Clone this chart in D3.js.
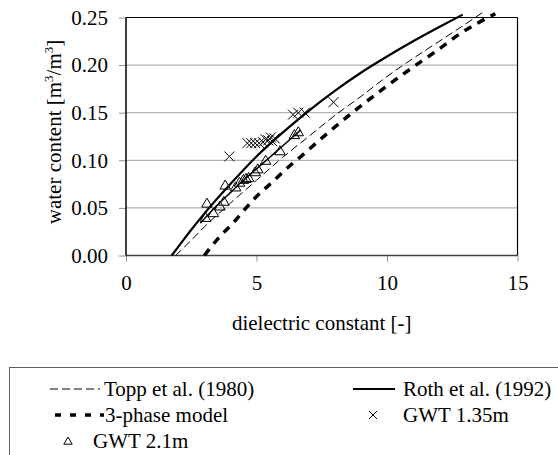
<!DOCTYPE html>
<html>
<head>
<meta charset="utf-8">
<script src="https://cdn.jsdelivr.net/npm/d3@7.9.0/dist/d3.min.js"></script>
<style>
  html, body { margin: 0; padding: 0; background: #fff; }
  svg text { font-family: "Liberation Serif", "Times New Roman", Tinos, "DejaVu Serif", serif !important; }
</style>
</head>
<body>
<svg id="chart" width="558" height="455"></svg>
<script>
// axis ticks
const xTicks = [0, 5, 10, 15];
const yTicks = [0, 0.05, 0.1, 0.15, 0.2, 0.25];

// model curves: [dielectric constant, water content]
const toppCurve = [
  [1.9, 0.0], [2.5, 0.016], [3, 0.03], [4, 0.055], [5, 0.079], [6, 0.103],
  [7, 0.125], [8, 0.147], [9, 0.167], [10, 0.188], [11, 0.207], [12, 0.225],
  [13, 0.243], [13.65, 0.255]
];
const rothCurve = [
  [1.75, 0.0], [2, 0.009], [2.5, 0.027], [3, 0.044], [4, 0.075], [5, 0.104],
  [6, 0.129], [7, 0.152], [8, 0.173], [9, 0.192], [10, 0.209], [11, 0.225],
  [12, 0.240], [12.9, 0.253]
];
const threePhaseCurve = [
  [3.0, 0.0], [3.6, 0.02], [4.1, 0.034], [4.6, 0.05], [5.0, 0.062], [5.6, 0.077],
  [6.1, 0.09], [6.7, 0.104], [7.7, 0.128], [8.9, 0.155], [9.9, 0.176],
  [10.9, 0.196], [11.9, 0.215], [12.8, 0.233], [14.15, 0.254]
];
const trendCurve = [
  [2.85, 0.034], [3.5, 0.053], [4, 0.066], [4.5, 0.079], [5, 0.091],
  [5.5, 0.103], [6, 0.115], [6.7, 0.132]
];

// measurements
const gwt135 = [
  [3.96, 0.104],
  [4.65, 0.118], [4.8, 0.118], [4.95, 0.118], [5.1, 0.118], [5.25, 0.119],
  [5.35, 0.122], [5.45, 0.121], [5.55, 0.124], [5.6, 0.12], [5.7, 0.123],
  [6.4, 0.148], [6.6, 0.15], [6.85, 0.15],
  [7.95, 0.161]
];
const gwt21 = [
  [3.05, 0.040], [3.1, 0.055], [3.35, 0.045], [3.6, 0.052], [3.75, 0.057],
  [3.8, 0.074], [4.2, 0.072], [4.35, 0.077], [4.5, 0.080], [4.6, 0.081],
  [4.7, 0.082], [4.95, 0.088], [5.05, 0.091], [5.35, 0.100], [5.9, 0.110],
  [6.45, 0.127], [6.6, 0.130]
];

const svg = d3.select('#chart');
const plotLeft = 126, plotRight = 517.5, plotTop = 17.5, plotBottom = 255.5;

const x = d3.scaleLinear().domain([0, 15]).range([plotLeft, plotRight]);
const y = d3.scaleLinear().domain([0, 0.25]).range([plotBottom, plotTop]);

// gridlines
svg.append('g')
  .selectAll('line')
  .data(yTicks.filter((d) => d > 0 && d < 0.25))
  .join('line')
  .attr('x1', plotLeft).attr('x2', plotRight)
  .attr('y1', (d) => y(d)).attr('y2', (d) => y(d))
  .attr('stroke', '#a0a0a0').attr('stroke-width', 1);

// axes
const xAxis = svg.append('g')
  .attr('transform', `translate(0,${plotBottom})`)
  .call(d3.axisBottom(x).tickValues(xTicks).tickSize(6).tickPadding(14).tickFormat(d3.format('d')));
xAxis.select('.domain').remove();
xAxis.selectAll('.tick line').attr('stroke', '#909090');
xAxis.selectAll('.tick text').attr('font-size', 21).attr('fill', '#000');

const yAxis = svg.append('g')
  .attr('transform', `translate(${plotLeft},0)`)
  .call(d3.axisLeft(y).tickValues(yTicks).tickSize(7).tickPadding(11).tickFormat(d3.format('.2f')));
yAxis.select('.domain').remove();
yAxis.selectAll('.tick line').attr('stroke', '#909090');
yAxis.selectAll('.tick text').attr('font-size', 21).attr('fill', '#000');

// frame
svg.append('line').attr('x1', plotLeft).attr('x2', plotRight).attr('y1', plotTop).attr('y2', plotTop)
  .attr('stroke', '#000').attr('stroke-width', 1.2);
svg.append('line').attr('x1', plotRight).attr('x2', plotRight).attr('y1', plotTop).attr('y2', plotBottom)
  .attr('stroke', '#000').attr('stroke-width', 1.2);
svg.append('line').attr('x1', plotLeft).attr('x2', plotRight).attr('y1', plotBottom).attr('y2', plotBottom)
  .attr('stroke', '#404040').attr('stroke-width', 1.3);
svg.append('line').attr('x1', plotLeft).attr('x2', plotLeft).attr('y1', plotTop).attr('y2', plotBottom)
  .attr('stroke', '#000').attr('stroke-width', 1.5);

// curves
const line = d3.line()
  .x((d) => x(d[0]))
  .y((d) => y(d[1]))
  .curve(d3.curveMonotoneX);

svg.append('path').datum(toppCurve).attr('d', line)
  .attr('fill', 'none').attr('stroke', '#000').attr('stroke-width', 1)
  .attr('stroke-dasharray', '8,4');
svg.append('path').datum(threePhaseCurve).attr('d', line)
  .attr('fill', 'none').attr('stroke', '#000').attr('stroke-width', 3.5)
  .attr('stroke-dasharray', '8,7');
svg.append('path').datum(trendCurve).attr('d', line)
  .attr('fill', 'none').attr('stroke', '#000').attr('stroke-width', 1.5);
svg.append('path').datum(rothCurve).attr('d', line)
  .attr('fill', 'none').attr('stroke', '#000').attr('stroke-width', 2.2);

// markers
const cross = (s) => `M${-s},${-s}L${s},${s}M${-s},${s}L${s},${-s}`;
const tri = (s) => `M0,${-s}L${s * 1.05},${s * 0.8}L${-s * 1.05},${s * 0.8}Z`;

svg.append('g')
  .selectAll('path')
  .data(gwt21)
  .join('path')
  .attr('transform', (d) => `translate(${x(d[0])},${y(d[1])})`)
  .attr('d', tri(5))
  .attr('fill', 'none').attr('stroke', '#000').attr('stroke-width', 1);

svg.append('g')
  .selectAll('path')
  .data(gwt135)
  .join('path')
  .attr('transform', (d) => `translate(${x(d[0])},${y(d[1])})`)
  .attr('d', cross(5))
  .attr('fill', 'none').attr('stroke', '#000').attr('stroke-width', 1);

// axis titles
svg.append('text')
  .attr('x', (plotLeft + plotRight) / 2).attr('y', 330)
  .attr('text-anchor', 'middle').attr('font-size', 21)
  .text('dielectric constant [-]');

const yTitle = svg.append('text')
  .attr('transform', 'translate(61,132) rotate(-90)')
  .attr('text-anchor', 'middle').attr('font-size', 21);
yTitle.append('tspan').text('water content [m');
yTitle.append('tspan').attr('font-size', 13).attr('dy', -8).text('3');
yTitle.append('tspan').attr('font-size', 21).attr('dy', 8).text('/m');
yTitle.append('tspan').attr('font-size', 13).attr('dy', -8).text('3');
yTitle.append('tspan').attr('font-size', 21).attr('dy', 8).text(']');

// legend
const legend = svg.append('g');
legend.append('rect')
  .attr('x', 9.5).attr('y', 367.5).attr('width', 600).attr('height', 120)
  .attr('fill', 'none').attr('stroke', '#606060').attr('stroke-width', 1);

const rowY = [389, 415, 441];

legend.append('line').attr('x1', 50).attr('x2', 100).attr('y1', rowY[0]).attr('y2', rowY[0])
  .attr('stroke', '#000').attr('stroke-width', 1).attr('stroke-dasharray', '8,4');
legend.append('text').attr('x', 104).attr('y', rowY[0] + 7).attr('font-size', 21)
  .text('Topp et al. (1980)');

legend.append('line').attr('x1', 353).attr('x2', 395).attr('y1', rowY[0]).attr('y2', rowY[0])
  .attr('stroke', '#000').attr('stroke-width', 2.2);
legend.append('text').attr('x', 403).attr('y', rowY[0] + 7).attr('font-size', 21)
  .text('Roth et al. (1992)');

legend.append('line').attr('x1', 55).attr('x2', 104).attr('y1', rowY[1]).attr('y2', rowY[1])
  .attr('stroke', '#000').attr('stroke-width', 3.5).attr('stroke-dasharray', '6,9');
legend.append('text').attr('x', 105).attr('y', rowY[1] + 7).attr('font-size', 21)
  .text('3-phase model');

legend.append('path')
  .attr('transform', `translate(373,${rowY[1]})`)
  .attr('d', cross(4))
  .attr('fill', 'none').attr('stroke', '#000').attr('stroke-width', 1);
legend.append('text').attr('x', 403).attr('y', rowY[1] + 7).attr('font-size', 21)
  .text('GWT 1.35m');

legend.append('path')
  .attr('transform', `translate(68,${rowY[2]})`)
  .attr('d', tri(4))
  .attr('fill', 'none').attr('stroke', '#000').attr('stroke-width', 1);
legend.append('text').attr('x', 93).attr('y', rowY[2] + 7).attr('font-size', 21)
  .text('GWT 2.1m');
</script>
</body>
</html>
